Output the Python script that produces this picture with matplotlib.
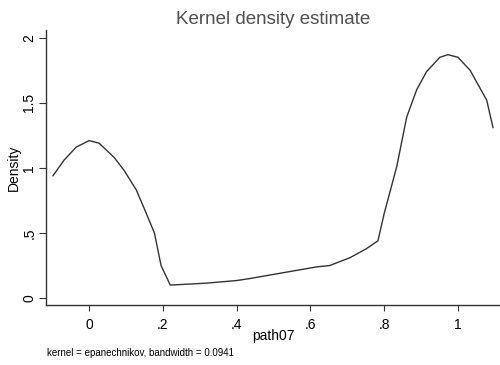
import matplotlib.pyplot as plt

plt.rcParams['font.family'] = ['Liberation Sans', 'DejaVu Sans']

# density curve
x_vals = [-0.098, -0.068, -0.035, 0.0, 0.027, 0.068, 0.095, 0.128, 0.155, 0.177,
          0.195, 0.22, 0.318, 0.40, 0.435, 0.617, 0.652, 0.707, 0.752, 0.783,
          0.80, 0.834, 0.861, 0.888, 0.915, 0.951, 0.973, 1.0, 1.033, 1.078, 1.095]
density = [0.94, 1.06, 1.16, 1.21, 1.19, 1.08, 0.98, 0.83, 0.65, 0.50,
           0.25, 0.10, 0.115, 0.135, 0.15, 0.24, 0.25, 0.31, 0.38, 0.44,
           0.65, 1.01, 1.39, 1.60, 1.74, 1.85, 1.87, 1.85, 1.75, 1.52, 1.31]

x_ticks = [0, 0.2, 0.4, 0.6, 0.8, 1.0]
x_labels = ['0', '.2', '.4', '.6', '.8', '1']
y_ticks = [0, 0.5, 1, 1.5, 2]
y_labels = ['0', '.5', '1', '1.5', '2']

fig = plt.figure(figsize=(5, 3.65), dpi=100)
ax = fig.add_axes([0.092, 0.164, 0.908, 0.754])

ax.plot(x_vals, density, color='#333333', linewidth=1.0)

ax.set_xlim(-0.117, 1.114)
ax.set_ylim(-0.054, 2.06)
ax.set_xticks(x_ticks)
ax.set_xticklabels(x_labels, fontsize=10)
ax.set_yticks(y_ticks)
ax.set_yticklabels(y_labels, fontsize=10, rotation=90, va='center')
ax.tick_params(axis='x', length=4, width=0.8, color='#333333', pad=5)
ax.tick_params(axis='y', length=5, width=0.8, color='#333333', pad=2)

ax.spines['top'].set_visible(False)
ax.spines['right'].set_visible(False)
for s in ['left', 'bottom']:
    ax.spines[s].set_color('#333333')
    ax.spines[s].set_linewidth(1.0)

ax.set_xlabel('path07', fontsize=10, labelpad=-2)
ax.set_ylabel('Density', fontsize=10, labelpad=1)
ax.set_title('Kernel density estimate', fontsize=13.5, color='#505050', pad=4)

fig.text(0.094, 0.033, 'kernel = epanechnikov, bandwidth = 0.0941', fontsize=7,
         ha='left', va='center')

fig.savefig('out.png', dpi=100)
